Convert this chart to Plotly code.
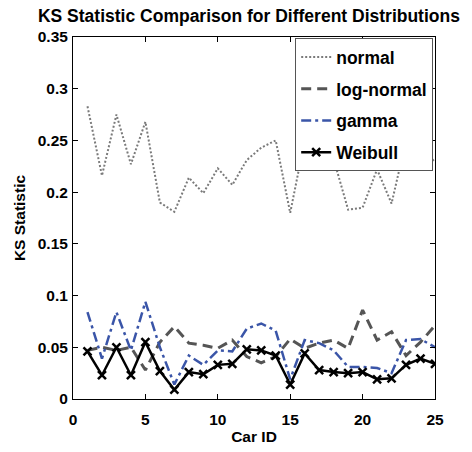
import plotly.graph_objects as go

car_id = list(range(1, 26))
normal = [0.283, 0.216, 0.275, 0.227, 0.268, 0.190, 0.181, 0.214, 0.199, 0.223,
          0.207, 0.231, 0.243, 0.250, 0.180, 0.250, 0.240, 0.232, 0.183, 0.185,
          0.222, 0.189, 0.250, 0.245, 0.229]
log_normal = [0.047, 0.050, 0.047, 0.050, 0.028, 0.055, 0.070, 0.054, 0.052, 0.049,
              0.057, 0.041, 0.035, 0.041, 0.058, 0.049, 0.054, 0.057, 0.049, 0.086,
              0.057, 0.065, 0.042, 0.055, 0.071]
gamma = [0.084, 0.039, 0.084, 0.047, 0.094, 0.050, 0.014, 0.042, 0.033, 0.047,
         0.046, 0.068, 0.073, 0.066, 0.019, 0.057, 0.054, 0.047, 0.031, 0.031,
         0.030, 0.025, 0.057, 0.058, 0.050]
weibull = [0.046, 0.023, 0.050, 0.023, 0.055, 0.027, 0.009, 0.026, 0.024, 0.033,
           0.034, 0.048, 0.047, 0.042, 0.014, 0.044, 0.028, 0.026, 0.025, 0.026,
           0.019, 0.020, 0.033, 0.039, 0.034]

x_ticks = [0, 5, 10, 15, 20, 25]
y_ticks = [0, 0.05, 0.1, 0.15, 0.2, 0.25, 0.3, 0.35]
y_tick_text = ["0", "0.05", "0.1", "0.15", "0.2", "0.25", "0.3", "0.35"]

FONT = "Liberation Sans, Arial, sans-serif"

fig = go.Figure()
fig.add_trace(go.Scatter(x=car_id, y=normal, mode="lines", name="normal",
                         legendgroup="a",
                         line=dict(color="#7a7a7a", width=2, dash="2px,2px")))
fig.add_trace(go.Scatter(x=car_id, y=log_normal, mode="lines", name="log-normal",
                         legendgroup="b",
                         line=dict(color="#555555", width=3, dash="10px,6px")))
fig.add_trace(go.Scatter(x=car_id, y=gamma, mode="lines", name="gamma",
                         legendgroup="c",
                         line=dict(color="#3a55a8", width=2.5, dash="10px,4px,3px,4px")))
fig.add_trace(go.Scatter(x=car_id, y=weibull, mode="lines+markers", name="Weibull",
                         legendgroup="d",
                         line=dict(color="black", width=2.5),
                         marker=dict(symbol="x-thin", size=8, color="black",
                                     line=dict(color="black", width=2.5))))

axis_common = dict(showline=True, linecolor="black", linewidth=1, mirror="ticks",
                   ticks="inside", ticklen=5, tickcolor="black", showgrid=False,
                   zeroline=False, automargin=False,
                   tickfont=dict(family=FONT, size=15.5, color="black", weight="bold"))

fig.update_layout(
    width=472, height=452,
    margin=dict(l=73, r=37, t=37, b=53),
    paper_bgcolor="white", plot_bgcolor="white",
    title=dict(text="<b>KS Statistic Comparison for Different Distributions</b>",
               x=0.486, xref="paper", xanchor="center", y=1 - 16 / 452, yref="container",
               yanchor="middle",
               font=dict(family=FONT, size=17.5, color="black")),
    xaxis=dict(range=[0, 25], tickvals=x_ticks, ticklabelstandoff=6,
               title=dict(text="<b>Car ID</b>", standoff=4,
                          font=dict(family=FONT, size=15.5, color="black")),
               **axis_common),
    yaxis=dict(range=[0, 0.35], tickvals=y_ticks, ticktext=y_tick_text,
               ticklabelstandoff=1,
               title=dict(text="<b>KS Statistic</b>", standoff=8,
                          font=dict(family=FONT, size=15.5, color="black")),
               **axis_common),
    legend=dict(x=0.995, xanchor="right", y=0.997, yanchor="top",
                bgcolor="white", bordercolor="#555555", borderwidth=1,
                tracegroupgap=6,
                font=dict(family=FONT, size=17.5, color="black", weight="bold")),
    showlegend=True,
)

fig.write_html("out.html",
               config={"displayModeBar": False},
               post_script="document.body.style.margin='0';document.body.style.padding='0';")
